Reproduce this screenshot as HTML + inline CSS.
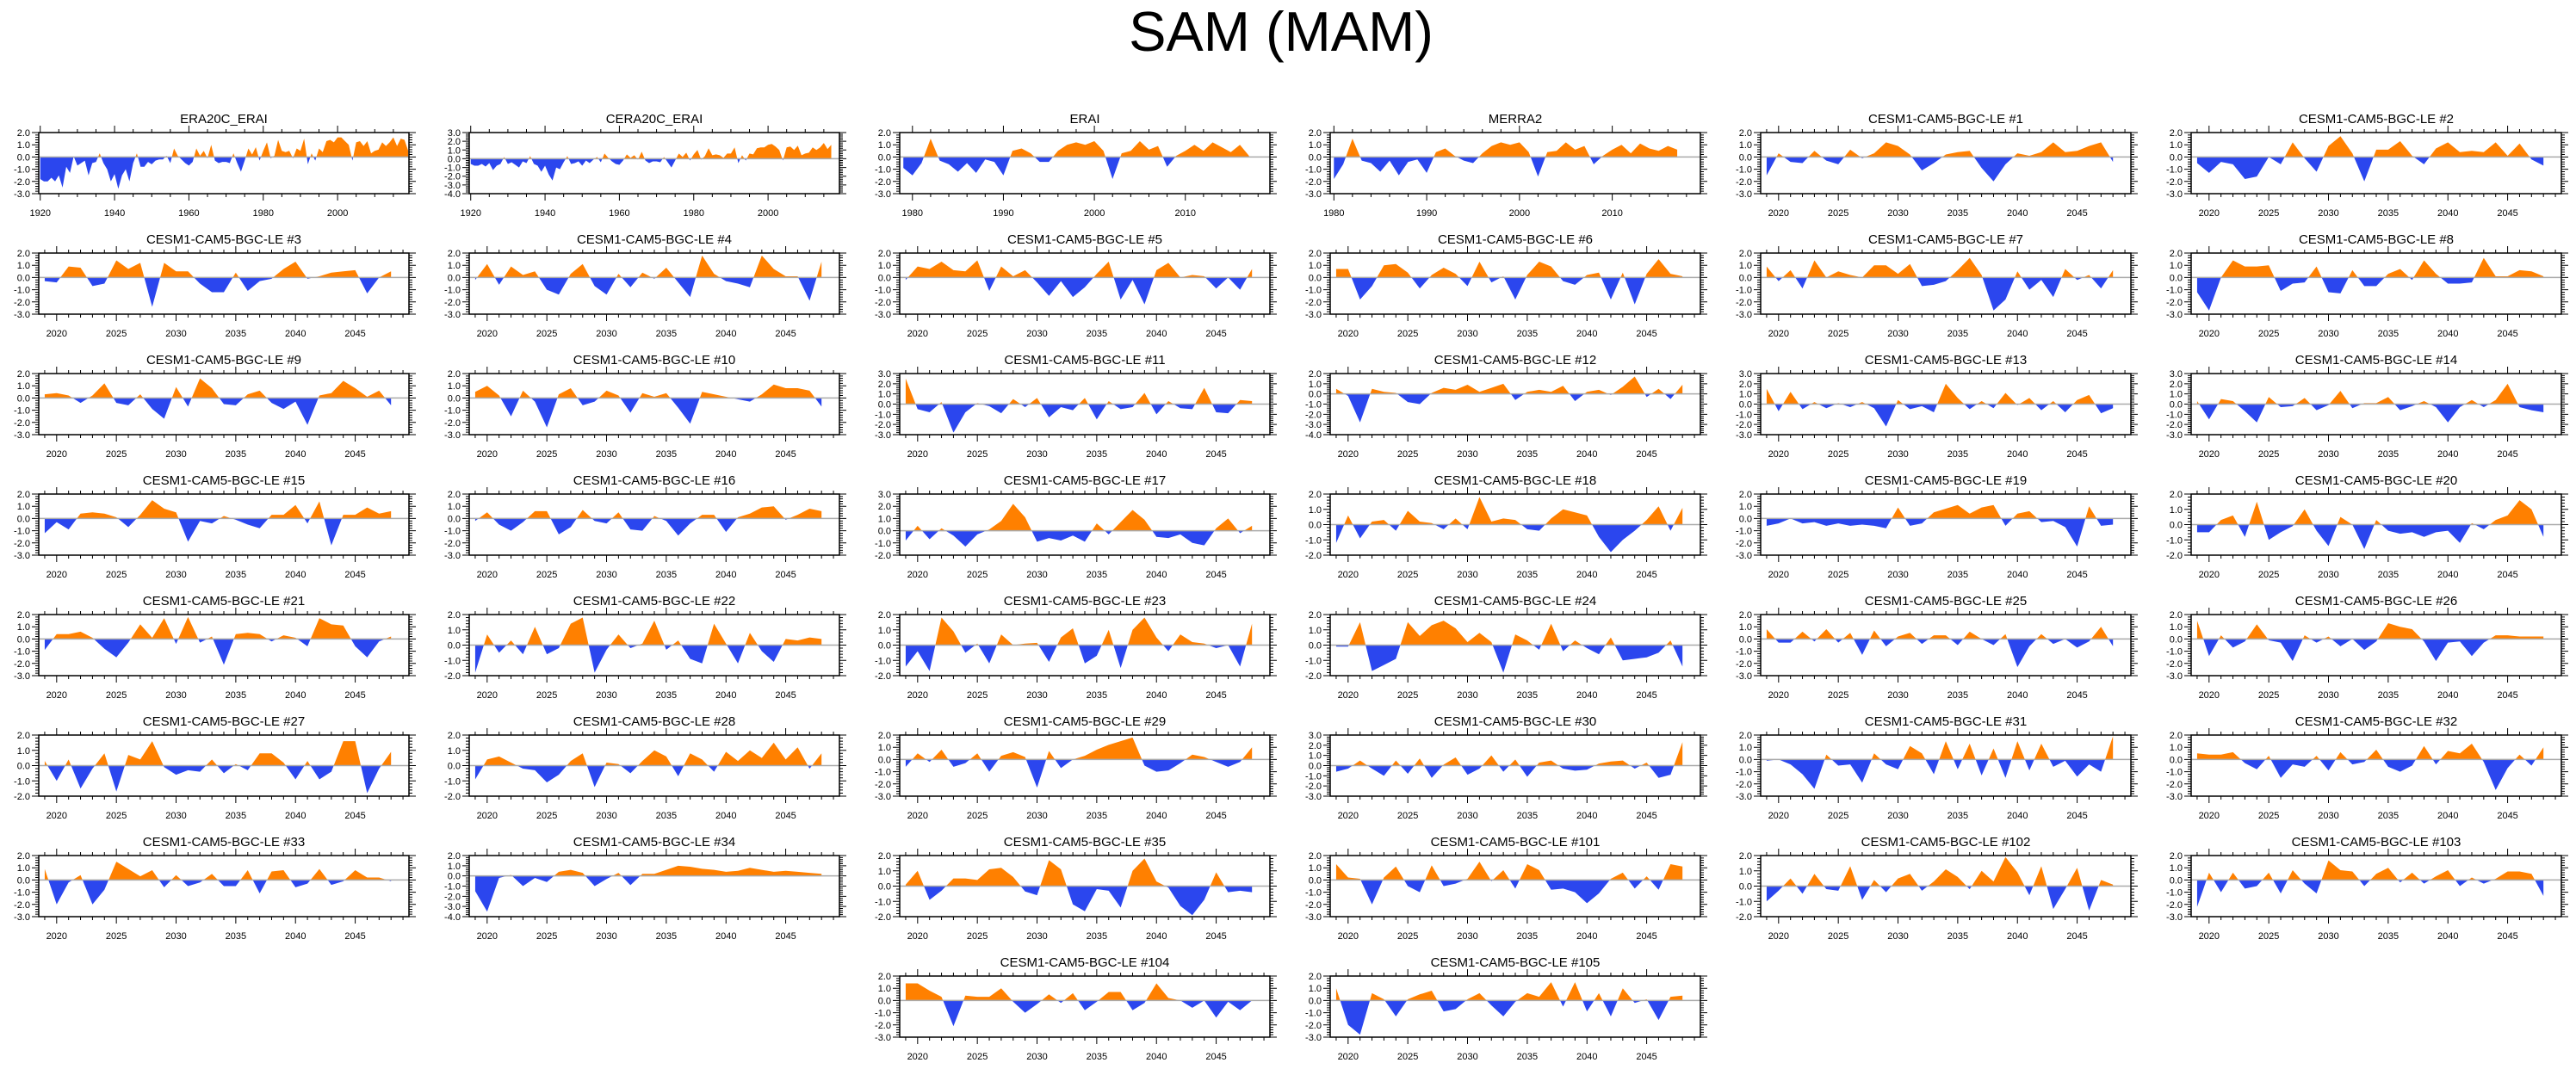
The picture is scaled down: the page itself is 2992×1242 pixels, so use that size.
<!DOCTYPE html>
<html><head><meta charset="utf-8"><title>SAM (MAM)</title>
<style>
html,body{margin:0;padding:0;background:#fff;}
svg{display:block;font-family:"Liberation Sans",Arial,sans-serif;}
</style></head>
<body>
<svg id="fig" width="2992" height="1242" viewBox="0 0 2992 1242" xmlns="http://www.w3.org/2000/svg">
<text x="1488" y="59" font-size="65" text-anchor="middle" fill="#000">SAM (MAM)</text>
</svg>
<script>
// ---- data ----
const sEra20c = [-1.8,-2.0,-2.0,-1.7,-2.0,-1.5,-2.5,-0.8,-1.3,0.05,-0.7,-0.5,-0.3,-1.5,-0.5,-0.4,0.3,-0.5,-1.0,-2.0,-1.4,-2.6,-1.5,-1.0,-2.0,-0.5,0.3,-0.8,-0.8,-0.4,-0.6,-0.3,-0.2,-0.2,0.1,-0.5,0.7,0.1,-0.2,-0.5,-0.7,-0.4,0.7,0.1,0.5,-0.1,1.0,-0.3,-0.5,-0.4,-0.4,-0.5,0.3,-0.5,-1.2,-0.3,0.7,0.2,0.8,-0.3,0.5,1.2,-0.1,0.1,1.4,0.5,0.4,0.5,-0.1,0.7,0.5,1.5,-0.6,0.3,-0.3,0.7,0.4,1.3,1.4,1.2,1.6,1.6,1.3,1.0,-0.3,1.2,1.3,0.9,1.3,0.3,0.5,0.6,1.2,0.9,1.2,1.6,0.9,1.5,1.4,0.5];
const sCera20c = [-0.6,-0.8,-0.8,-0.6,-0.9,-0.5,-1.3,-0.8,-0.6,0.2,-0.6,-0.4,-0.7,-1.0,-0.3,-0.5,0.3,-0.6,-0.8,-1.5,-0.8,-1.8,-2.5,-1.0,-1.2,-0.4,0.3,-0.6,-0.5,-0.3,-0.8,-0.2,-0.5,-0.1,0.2,-0.4,0.6,0.1,-0.3,-0.6,-0.7,-0.2,0.5,0.1,0.4,-0.1,0.8,-0.2,-0.5,-0.3,-0.3,-0.4,0.2,-0.4,-1.0,-0.2,0.6,0.2,0.7,-0.2,0.5,1.0,-0.1,0.3,1.2,0.4,0.5,0.4,0.1,0.6,0.6,1.3,-0.5,0.4,-0.2,0.6,0.5,1.2,1.3,1.3,1.6,1.7,1.4,1.0,-0.2,1.3,1.4,1.0,1.5,0.4,0.6,0.7,1.3,1.0,1.3,1.8,1.1,1.6];
const sErai = [-0.9,-1.5,-0.5,1.5,-0.3,-0.6,-1.2,-0.5,-1.3,-0.2,-0.4,-1.5,0.5,0.7,0.3,-0.4,-0.4,0.5,1.0,1.2,1.0,1.3,0.5,-1.8,0.3,0.5,1.3,0.6,0.9,-0.8,0.1,0.5,1.0,0.5,1.2,0.8,0.4,1.0,0.1];
const sMerra2 = [-1.8,-0.6,1.5,-0.3,-0.5,-1.2,-0.3,-1.5,-0.4,-0.2,-1.3,0.4,0.7,0.1,-0.3,-0.5,0.3,0.9,1.2,1.0,1.2,0.4,-1.6,0.4,0.5,1.2,0.6,0.9,-0.6,0.1,0.6,1.0,0.3,1.1,0.7,0.5,0.9,0.6];
const e1 = [-1.5,0.3,-0.4,-0.5,0.5,-0.3,-0.6,0.6,-0.1,0.3,1.2,0.9,0.2,-1.1,-0.5,0.2,0.4,0.5,-0.9,-2.0,-0.6,0.3,0.1,0.4,1.2,0.4,0.5,0.9,1.2,-0.4];
const e2 = [-0.5,-1.3,-0.4,-0.6,-1.8,-1.6,0.0,-0.6,1.2,-0.1,-1.2,0.9,1.7,0.3,-2.0,0.6,0.6,1.3,0.1,-0.6,0.7,1.2,0.4,0.5,0.4,1.2,0.1,1.1,-0.2,-0.7];
const e3 = [-0.3,-0.4,0.9,0.8,-0.7,-0.5,1.4,0.7,1.2,-2.4,1.2,0.5,0.5,-0.5,-1.2,-1.2,0.4,-1.1,-0.3,-0.1,0.7,1.3,-0.1,0.1,0.4,0.5,0.6,-1.3,0.0,0.5];
const e4 = [-0.2,1.1,-0.6,0.9,0.2,0.5,-1.0,-1.4,0.3,1.1,-0.7,-1.4,0.3,-0.8,0.4,-0.1,0.8,-0.4,-1.6,1.8,0.3,-0.3,-0.5,-0.8,1.8,0.7,0.1,0.1,-1.9,1.3];
const e5 = [-0.2,0.9,0.7,1.3,0.6,0.5,1.4,-1.1,0.9,0.1,0.6,-0.4,-1.5,-0.3,-1.6,-0.8,0.3,1.3,-1.8,-0.2,-2.2,0.6,1.2,0.0,0.2,0.1,-0.9,0.0,-1.0,0.7];
const e6 = [0.7,0.7,-1.8,-0.7,1.0,1.1,0.4,-0.9,0.2,0.8,0.3,-0.7,1.3,-0.4,0.1,-1.8,0.2,1.3,0.9,-0.3,-0.6,0.2,0.4,-1.8,0.4,-2.2,0.3,1.5,0.3,0.1];
const e7 = [0.9,-0.3,0.6,-0.9,1.4,0.0,0.5,0.2,0.0,1.0,1.0,0.3,1.1,-0.7,-0.6,-0.3,0.6,1.6,0.2,-2.7,-1.8,0.5,-1.0,-0.2,-1.6,0.7,-0.2,0.2,-0.9,0.6];
const e8 = [-1.2,-2.7,0.0,1.4,0.9,0.9,1.0,-1.1,-0.5,-0.4,0.9,-1.2,-1.3,0.6,-0.7,-0.7,0.3,0.7,-0.2,1.4,0.3,-0.5,-0.5,-0.4,1.6,0.1,0.1,0.6,0.5,0.1];
const e9 = [0.3,0.4,0.2,-0.4,0.2,1.2,-0.4,-0.6,0.3,-0.9,-1.7,0.9,-0.7,1.6,0.8,-0.5,-0.6,0.3,0.6,-0.4,-0.9,-0.3,-2.2,0.2,0.4,1.4,0.8,0.1,0.6,-0.6];
const e10 = [0.5,1.0,0.2,-1.5,0.6,-0.3,-2.4,0.3,0.8,-0.6,-0.3,0.6,0.2,-1.2,0.4,0.1,0.4,-0.8,-2.1,0.5,0.3,0.1,-0.1,-0.3,0.3,1.1,0.8,0.8,0.6,-0.7];
const e11 = [2.5,-0.5,-0.8,0.2,-2.8,-0.8,0.1,-0.2,-0.9,0.5,-0.3,0.6,-1.3,-0.3,-0.6,0.6,-1.5,0.3,-0.5,-0.3,1.1,-1.0,0.3,-0.4,-0.5,1.6,-0.8,-0.9,0.4,0.3];
const e12 = [0.5,-0.2,-2.8,0.5,0.2,0.1,-0.8,-1.0,0.1,0.6,0.4,0.9,0.2,0.6,1.0,-0.6,0.2,0.4,0.2,0.8,-0.7,0.2,0.4,-0.1,0.7,1.7,-0.3,0.5,-0.5,0.9];
const e13 = [1.5,-0.7,1.2,-0.5,0.2,-0.4,0.1,-0.3,0.2,-0.4,-2.2,0.4,-0.5,-0.2,-0.8,2.0,0.6,-0.5,0.3,-0.4,1.1,-0.1,0.6,-0.6,0.3,-0.8,0.4,0.9,-0.9,-0.4];
const e14 = [0.3,-1.5,0.5,0.3,-0.7,-1.8,0.7,-0.3,-0.2,0.6,-0.6,-0.1,1.3,-0.4,0.1,0.1,0.7,-0.6,-0.2,0.3,-0.3,-1.8,-0.3,0.4,-0.3,0.4,2.0,-0.3,-0.6,-0.8];
const e15 = [-1.2,-0.3,-0.9,0.4,0.5,0.4,0.1,-0.7,0.3,1.5,0.8,0.5,-1.9,-0.2,-0.4,0.2,-0.1,-0.5,-0.8,0.3,0.3,1.1,-0.4,1.4,-2.2,0.3,0.3,0.9,0.4,0.6];
const e16 = [-0.2,0.5,-0.5,-1.0,-0.3,0.6,0.6,-1.3,-0.7,0.7,-0.2,-0.4,0.5,-0.9,-1.0,0.2,-0.2,-1.4,-0.4,0.3,0.3,-1.1,0.1,0.4,0.9,1.0,-0.1,0.3,0.8,0.6];
const e17 = [-0.8,0.4,-0.7,0.2,-0.4,-1.3,-0.3,0.1,0.8,2.2,1.1,-0.9,-0.6,-0.8,-0.4,-0.9,0.6,-0.3,0.7,1.7,0.9,-0.5,-0.6,-0.3,-1.0,-1.2,0.2,1.0,-0.2,0.4];
const e18 = [-1.2,0.6,-0.9,0.2,0.3,-0.4,0.9,0.2,0.1,-0.3,0.4,-0.3,1.8,0.2,0.4,0.3,-0.3,-0.4,0.4,1.0,0.8,0.6,-0.8,-1.8,-1.0,-0.4,0.3,1.2,-0.4,1.1];
const e19 = [-0.6,-0.4,0.0,-0.4,-0.3,-0.6,-0.4,-0.6,-0.5,-0.6,-0.8,0.9,-0.6,-0.4,0.5,0.8,1.1,0.4,0.9,1.1,-0.6,0.4,0.6,-0.3,-0.2,-0.7,-2.3,1.0,-0.6,-0.5];
const e20 = [-0.5,-0.5,0.3,0.6,-0.8,1.5,-1.0,-0.5,-0.1,1.0,-0.4,-1.4,0.5,0.0,-1.6,0.3,-0.4,-0.6,-0.5,-0.8,-0.5,-0.4,-1.2,0.1,-0.3,0.3,0.6,1.6,1.0,-0.8];
const e21 = [-0.9,0.4,0.4,0.6,0.1,-0.8,-1.5,-0.3,1.2,0.1,1.7,-0.4,1.8,-0.3,0.2,-2.1,0.4,0.5,0.4,-0.2,0.3,0.1,-0.6,1.7,1.2,1.1,-0.6,-1.5,-0.2,0.2];
const e22 = [-1.8,0.7,-0.5,0.3,-0.6,1.2,-0.6,-0.2,1.4,1.8,-1.8,-0.3,0.7,-0.2,0.1,1.6,-0.3,0.3,-0.9,-1.2,1.4,0.1,-1.2,0.8,-0.4,-1.1,0.4,0.3,0.5,0.4];
const e23 = [-1.4,-0.4,-1.7,1.8,0.9,-0.5,0.1,-1.2,0.7,0.0,0.1,0.15,-1.1,0.5,1.1,-1.2,-0.7,1.0,-1.5,1.0,1.8,0.5,-0.4,0.7,0.2,0.1,-0.2,0.0,-1.4,1.4];
const e24 = [-0.1,-0.1,1.5,-1.7,-1.3,-0.9,1.5,0.6,1.3,1.6,1.1,0.2,0.8,0.2,-1.8,0.7,0.3,-0.3,1.4,-0.4,0.3,-0.2,-0.6,0.5,-1.0,-0.9,-0.8,-0.5,0.3,-1.4];
const e25 = [0.8,-0.3,-0.3,0.6,-0.2,0.8,-0.3,0.5,-1.3,0.7,-0.6,0.2,0.5,-0.4,0.3,0.3,-0.5,0.6,0.0,-0.5,0.4,-2.3,-0.6,0.4,-0.4,0.0,-0.7,-0.2,1.0,-0.6];
const e26 = [1.5,-1.4,0.3,-0.7,-0.2,1.2,-0.1,-0.3,-1.8,0.3,-0.3,0.2,-0.6,0.0,-0.9,-0.2,1.3,1.0,0.8,-0.2,-1.8,-0.3,-0.2,-1.4,-0.3,0.3,0.3,0.2,0.2,0.2];
const e27 = [0.3,-1.0,0.4,-1.5,-0.2,0.8,-1.7,0.7,0.4,1.6,-0.1,-0.6,-0.3,-0.4,0.4,-0.5,0.1,-0.3,0.8,0.8,0.2,-0.9,0.3,-0.9,-0.4,1.6,1.6,-1.8,-0.2,0.9];
const e28 = [-0.9,0.4,0.6,0.2,-0.2,-0.3,-1.1,-0.6,0.3,0.8,-1.4,0.2,0.1,-0.5,0.3,1.0,0.6,-0.7,0.8,0.4,-0.4,0.9,0.3,1.0,0.5,1.5,0.4,1.2,-0.2,0.8];
const e29 = [-0.6,0.5,-0.2,0.8,-0.6,-0.3,0.5,-1.0,0.3,0.6,0.2,-2.3,0.7,-0.7,0.0,0.3,0.8,1.2,1.5,1.8,-0.5,-1.0,-0.9,-0.3,0.4,0.2,-0.2,-0.6,-0.2,1.0];
const e30 = [-0.6,-0.3,0.5,-0.3,-1.0,0.5,-0.8,0.7,-1.2,0.1,0.8,-0.9,-0.3,1.0,-0.6,0.6,-1.1,0.3,0.5,-0.3,-0.5,-0.4,0.2,0.4,0.5,-0.3,0.3,-1.2,-0.9,2.3];
const e31 = [-0.1,0.0,-0.4,-1.2,-2.4,0.4,-0.5,-0.4,-1.9,0.5,-0.4,-0.8,1.1,0.5,-1.2,1.5,-0.8,1.3,-1.3,0.9,-1.5,1.5,-0.9,1.3,-0.6,-0.1,-1.4,-0.4,-1.0,1.9];
const e32 = [0.5,0.4,0.4,0.6,-0.3,-0.8,0.3,-1.5,-0.4,-0.6,0.3,-0.9,0.6,-0.4,-0.2,0.8,-0.6,-1.0,-0.5,1.1,-0.4,0.7,0.5,1.3,-0.2,-2.5,-0.7,0.4,-0.5,1.0];
const e33 = [0.9,-2.0,-0.2,0.4,-2.0,-0.8,1.5,0.9,0.3,0.8,-0.6,0.4,-0.5,-0.2,0.5,-0.5,-0.5,0.8,-1.1,0.7,0.8,-0.6,-0.3,0.9,-0.4,-0.1,0.8,0.2,0.2,-0.1];
const e34 = [-1.5,-3.5,-0.2,0.1,-1.0,-0.2,-0.6,0.4,0.6,0.3,-1.0,-0.3,0.3,-0.9,0.2,0.2,0.6,1.0,0.9,0.7,0.6,0.4,0.5,0.8,0.6,0.4,0.5,0.4,0.3,0.2];
const e35 = [0.1,1.0,-0.9,-0.3,0.5,0.5,0.4,1.1,1.2,0.6,-0.35,-0.6,1.7,1.1,-1.2,-1.65,-0.2,-0.3,-1.4,1.0,1.8,0.3,-0.1,-1.3,-1.9,-0.9,0.9,-0.4,-0.3,-0.4];
const e101 = [1.3,0.2,0.1,-2.0,0.2,1.1,-0.5,-1.0,1.2,-0.5,-0.3,0.1,1.5,-0.1,0.8,-0.7,1.3,0.8,-0.8,-0.7,-1.0,-1.9,-1.1,0.1,0.6,-0.7,0.3,-0.8,1.3,1.1];
const e102 = [-1.0,-0.3,0.5,-0.5,0.8,-0.2,-0.3,1.3,-0.9,0.4,-0.4,0.5,0.8,-0.3,0.3,1.1,0.6,-0.2,1.0,0.3,1.9,0.9,-0.6,1.3,-1.5,-0.2,1.2,-1.6,0.4,0.1];
const e103 = [-2.2,0.6,-1.0,0.6,-0.7,-0.5,0.6,-1.1,0.8,-0.3,-1.1,1.6,0.8,0.7,-0.5,0.5,1.0,-0.2,0.6,-0.3,0.3,0.8,-0.5,0.2,-0.3,0.1,0.7,0.7,0.5,-1.3];
const e104 = [1.4,1.4,0.8,0.3,-2.1,0.4,0.3,0.3,1.0,-0.1,-1.0,-0.3,0.5,-0.2,0.6,-0.8,-0.1,0.7,0.7,-0.8,-0.2,1.4,0.2,0.0,-0.6,0.0,-1.4,-0.1,-0.8,0.0];
const e105 = [1.0,-2.0,-2.8,0.6,0.1,-1.3,0.1,0.5,0.8,-0.9,-0.7,0.1,0.6,-0.4,-1.3,-0.1,0.6,0.3,1.5,-0.5,1.5,-0.9,0.6,-1.3,1.0,-0.2,0.1,-1.6,0.3,0.4];

const panelTitles = ["ERA20C_ERAI","CERA20C_ERAI","ERAI","MERRA2",
 "CESM1-CAM5-BGC-LE #1","CESM1-CAM5-BGC-LE #2","CESM1-CAM5-BGC-LE #3","CESM1-CAM5-BGC-LE #4","CESM1-CAM5-BGC-LE #5","CESM1-CAM5-BGC-LE #6","CESM1-CAM5-BGC-LE #7","CESM1-CAM5-BGC-LE #8","CESM1-CAM5-BGC-LE #9","CESM1-CAM5-BGC-LE #10","CESM1-CAM5-BGC-LE #11","CESM1-CAM5-BGC-LE #12","CESM1-CAM5-BGC-LE #13","CESM1-CAM5-BGC-LE #14","CESM1-CAM5-BGC-LE #15","CESM1-CAM5-BGC-LE #16","CESM1-CAM5-BGC-LE #17","CESM1-CAM5-BGC-LE #18","CESM1-CAM5-BGC-LE #19","CESM1-CAM5-BGC-LE #20","CESM1-CAM5-BGC-LE #21","CESM1-CAM5-BGC-LE #22","CESM1-CAM5-BGC-LE #23","CESM1-CAM5-BGC-LE #24","CESM1-CAM5-BGC-LE #25","CESM1-CAM5-BGC-LE #26","CESM1-CAM5-BGC-LE #27","CESM1-CAM5-BGC-LE #28","CESM1-CAM5-BGC-LE #29","CESM1-CAM5-BGC-LE #30","CESM1-CAM5-BGC-LE #31","CESM1-CAM5-BGC-LE #32","CESM1-CAM5-BGC-LE #33","CESM1-CAM5-BGC-LE #34","CESM1-CAM5-BGC-LE #35","CESM1-CAM5-BGC-LE #101","CESM1-CAM5-BGC-LE #102","CESM1-CAM5-BGC-LE #103","CESM1-CAM5-BGC-LE #104","CESM1-CAM5-BGC-LE #105"];
const panelSeries = [sEra20c,sCera20c,sErai,sMerra2,e1,e2,e3,e4,e5,e6,e7,e8,e9,e10,e11,e12,e13,e14,e15,e16,e17,e18,e19,e20,e21,e22,e23,e24,e25,e26,e27,e28,e29,e30,e31,e32,e33,e34,e35,e101,e102,e103,e104,e105];
const startYears = [1920,1920,1979,1980];
const yMins = [-3,-4,-3,-3,-3,-3, -3,-3,-3,-3,-3,-3, -3,-3,-3,-4,-3,-3, -3,-3,-2,-2,-3,-2, -3,-2,-2,-2,-3,-3, -2,-2,-3,-3,-3,-3, -3,-4,-2,-3,-2,-3, -3,-3];
const yMaxs = [2,3,2,2,2,2, 2,2,2,2,2,2, 2,2,3,2,3,3, 2,2,3,2,2,2, 2,2,2,2,2,2, 2,2,2,3,2,2, 2,2,2,2,2,2, 2,2];

// ---- layout ----
const NS = "http://www.w3.org/2000/svg";
const svg = document.getElementById("fig");
const W = 430, H = 71;
function mk(tag, attrs, parent){ const e=document.createElementNS(NS,tag); for(const k in attrs) e.setAttribute(k,attrs[k]); (parent||svg).appendChild(e); return e; }

panelTitles.forEach((title, i) => {
  let col, row;
  if (i < 42) { col = i % 6; row = Math.floor(i / 6); }
  else { col = i - 40; row = 7; }
  const x0 = 45 + 500 * col, y0 = 154 + 140 * row;
  const vals = panelSeries[i];
  let start, xmin, xmax, major, minor;
  if (i < 2) { start = startYears[i]; xmin = 1919.6; xmax = 2019.2; major = 20; minor = 5; }
  else if (i === 2) { start = startYears[i]; xmin = 1978.6; xmax = 2019.3; major = 10; minor = 2; }
  else if (i === 3) { start = startYears[i]; xmin = 1979.6; xmax = 2019.5; major = 10; minor = 2; }
  else { start = 2019; xmin = 2018.5; xmax = 2049.5; major = 5; minor = 1; }
  const ymin = yMins[i], ymax = yMaxs[i];
  const sx = v => x0 + (v - xmin) / (xmax - xmin) * W;
  const sy = v => y0 + (ymax - v) / (ymax - ymin) * H;

  const g = mk("g", {});
  
  

  const tt = mk("text", {x: x0 + W/2, y: y0 - 11, "font-size": 15, "text-anchor": "middle", fill: "#000"}, g);
  tt.textContent = title;
  
  

  const z = sy(0);
  const cid = "c" + i;
  const defs = mk("defs", {}, g);
  const cpA = mk("clipPath", {id: cid + "a"}, defs);
  mk("rect", {x: x0, y: y0, width: W, height: z - y0}, cpA);
  const cpB = mk("clipPath", {id: cid + "b"}, defs);
  mk("rect", {x: x0, y: z, width: W, height: y0 + H - z}, cpB);

  let pts = sx(start).toFixed(2) + "," + z.toFixed(2);
  vals.forEach((v, k) => { pts += " " + sx(start + k).toFixed(2) + "," + sy(v).toFixed(2); });
  pts += " " + sx(start + vals.length - 1).toFixed(2) + "," + z.toFixed(2);
  const pa = mk("polygon", {points: pts, fill: "#ff8000", "clip-path": "url(#" + cid + "a)"}, g);
  
  
  const pb = mk("polygon", {points: pts, fill: "#2b46ee", "clip-path": "url(#" + cid + "b)"}, g);
  
  

  const zl = mk("line", {x1: x0, x2: x0 + W, y1: z, y2: z, stroke: "#aaaaaa", "stroke-width": 1.5}, g);
  
  

  const fr = mk("rect", {x: x0, y: y0, width: W, height: H, fill: "none", stroke: "#000", "stroke-width": 1.5}, g);
  
  

  let tk = "";
  for (let t = Math.round(ymin * 5); t <= Math.round(ymax * 5); t++) {
    const v = t / 5, y = sy(v), isMaj = (t % 5 === 0), L = isMaj ? 8 : 4;
    tk += `M${x0 - L},${y}H${x0}M${x0 + W},${y}H${x0 + W + L}`;
    if (isMaj) {
      const lb = mk("text", {x: x0 - 10, y: y + 4, "font-size": 11, "text-anchor": "end", fill: "#000"}, g);
      lb.textContent = v.toFixed(1);
      
      
    }
  }
  const first = Math.ceil(xmin / minor) * minor;
  for (let yr = first; yr <= xmax; yr += minor) {
    const x = sx(yr), isMaj = (yr % major === 0), L = isMaj ? 8 : 4;
    tk += `M${x},${y0 - L}V${y0}M${x},${y0 + H}V${y0 + H + L}`;
    if (isMaj) {
      const lb = mk("text", {x: x, y: y0 + H + 26, "font-size": 11, "text-anchor": "middle", fill: "#000"}, g);
      lb.textContent = String(yr);
      
      
    }
  }
  const tp = mk("path", {d: tk, stroke: "#000", "stroke-width": 1, fill: "none"}, g);
  
  
});
</script>
</body></html>
